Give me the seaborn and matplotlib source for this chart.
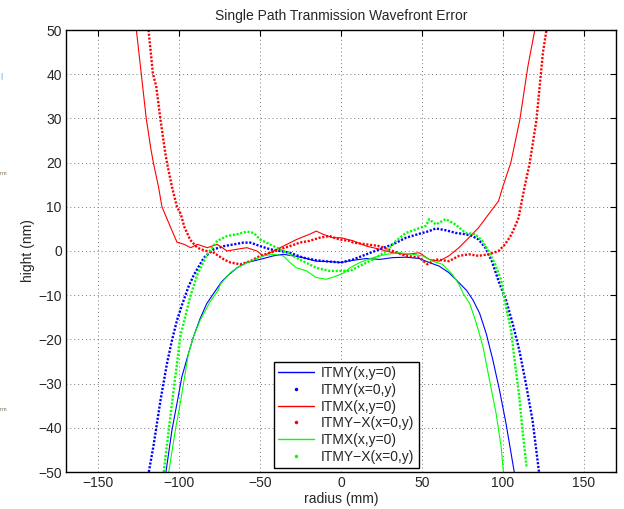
import numpy as np
import pandas as pd
import matplotlib
matplotlib.use("Agg")
import matplotlib.pyplot as plt
from matplotlib.lines import Line2D
import seaborn as sns

# ---------------- data ----------------
title = "Single Path Tranmission Wavefront Error"
xlabel = "radius (mm)"
ylabel = "hight (nm)"
xticks = [-150, -100, -50, 0, 50, 100, 150]
yticks = [-50, -40, -30, -20, -10, 0, 10, 20, 30, 40, 50]

itmy_x_r = [-108.2, -104.5, -101.4, -98.4, -94.3, -91.2, -87.1, -83, -78, -73.9, -70.4, -64.3, -58.2,
            -50, -41.8, -35.7, -29.6, -23.5, -15.3, -7.1, 0, 7.6, 15.7, 23.9, 32, 40.2, 48.4, 54.5,
            60.6, 66.7, 71.4, 77.6, 81.6, 85.7, 89.8, 93.9, 98, 102, 107.1]
itmy_x_v = [-50, -40.5, -34.5, -28.5, -23.2, -19.4, -15.3, -11.9, -9.2, -7, -5.7, -3.8, -2.6,
            -1.9, -1.1, -0.75, -1.1, -1.5, -2.3, -2.4, -2.6, -2.1, -1.7, -1.9, -1.5, -1.4, -1.7, -2.6,
            -3.4, -4.9, -6.6, -8.9, -11.1, -14.1, -18.7, -24.7, -31.5, -39, -50]

itmy_y_r = [-118.8, -115.7, -111.6, -107.6, -104.5, -101.4, -98.4, -94.3, -90.8, -84.7, -78.6, -72.4,
            -66.3, -60.2, -56, -50, -43.9, -37.7, -31.6, -23.5, -15.3, -7.1, 0, 7.6, 15.7, 23.9, 32,
            40.2, 48.4, 54.5, 58.6, 64.7, 70.8, 76.9, 81, 85.1, 89.2, 93.3, 97.4, 102, 106.1, 110.2,
            114.3, 118.4, 122.4]
itmy_y_v = [-50, -43.6, -33.8, -25.5, -20.2, -15.7, -12.3, -8.1, -5.3, -1.5, 0.4, 1.1,
            1.5, 1.9, 1.9, 1.1, 0.4, 0, -0.4, -1.5, -2.1, -2.4, -2.6, -1.9, -0.75, 0.4, 1.5,
            3, 3.9, 4.5, 5.1, 4.7, 4.1, 3.8, 3.4, 2.6, 0.75, -2.3, -6.8, -11.1, -16.4, -22.4,
            -30, -38.3, -50]

itmx_x_r = [-126.5, -123.5, -120.4, -117.5, -116, -112.8, -110.7, -105.5, -101.4, -97, -92.9, -88.8,
            -82.7, -76.5, -70.4, -64.3, -58.2, -52, -48, -43.9, -35.7, -27.5, -19.4, -15.3, -11.2,
            -5.1, 0, 7.6, 15.7, 23.9, 32, 40.2, 48.4, 54.5, 60.6, 66.7, 72.9, 79, 85.1, 91.2, 97.4,
            100, 105, 110.5, 115.5, 119.8]
itmx_x_v = [50, 40.2, 30, 23, 20, 14.5, 10, 5.5, 2, 1.5, 0.75, 1.5,
            0.75, 1.5, 0, 0.4, 0.75, 0, -1.1, -0.4, 1.1, 2.6, 3.8, 4.5, 3.8,
            3, 3, 2.3, 1.1, 0.4, -0.4, -0.75, -0.4, -1.9, -2.3, -1.1, 0.75, 3, 5.3, 8.3, 11.3,
            14.5, 20, 29.6, 41.7, 50]

itmyx_y_r = [-119, -116.3, -114.2, -111.7, -108.6, -107.6, -104.5, -101.4, -99, -96.9, -93.2, -88.8,
             -84.7, -78.6, -72.4, -68.4, -62.2, -56, -50, -43.9, -37.7, -31.6, -25.5, -19.4, -13.3,
             -7.1, -1, 5, 7.6, 15.7, 23.9, 32, 40.2, 48.4, 53.5, 58.6, 66.7, 72.9, 79, 85.1, 91.2,
             97.4, 101.4, 105.5, 109.6, 113.5, 116.7, 120.8, 124.8, 127]
itmyx_y_v = [50, 40.2, 37.2, 30, 22.1, 20, 14.5, 10, 8.3, 5.5, 2.5, 0.75,
             0.15, -0.4, -1.9, -2.6, -3, -2.3, -1.1, -0.4, 0.4, 1.1, 1.9, 2.3, 3,
             3.4, 2.6, 2.3, 1.9, 1.5, 1.1, 0, -1.1, -1.5, -3, -1.9, -2.3, -1.1, -0.75, -1.1, -0.75,
             0, 1.5, 3.8, 7.3, 14.5, 20, 29.6, 44.8, 50]

itmx2_x_r = [-106.5, -102.4, -99.4, -94.3, -91.2, -87.1, -81, -76, -74.5, -68.4, -64.3, -56, -48,
             -41.8, -35.7, -31.6, -27.5, -21.4, -15.3, -9.2, -3.1, 2, 5.5, 11.6, 19.8, 28, 36.1,
             44.3, 50.4, 56.5, 62.7, 68.8, 72.9, 75.5, 79.6, 83.7, 87.8, 91.8, 95.9, 99, 100.4]
itmx2_x_v = [-50, -40.5, -34.5, -23.2, -19.4, -15.7, -11.5, -8.9, -7.5, -4.9, -3.8, -2.3, -1.1,
             -0.75, -1.1, -2.6, -3.8, -4.5, -6, -6.4, -5.7, -4.9, -3.8, -2.6, -1.5, -0.75, -0.4,
             -0.75, -1.1, -2.3, -3, -5.3, -7.5, -9.6, -11.9, -16.4, -21.7, -29.2, -36.8, -44.3, -50]

itmyx2_y_r = [-109.6, -106.5, -103.5, -101.4, -99.4, -96.3, -93.3, -88.8, -82.7, -76.5, -70.4, -64.3,
              -58.2, -54, -50, -43.9, -37.7, -31.6, -23.5, -15.3, -7.1, 1, 5.5, 11.6, 19.8, 28, 34,
              40.2, 46.3, 52.5, 54.5, 58.6, 64.7, 70.8, 76.9, 83, 87.2, 91.2, 95.3, 99, 102, 105.1,
              107.1, 110.2, 112.2, 114.7]
itmyx2_y_v = [-50, -40.5, -31.5, -25.5, -19.4, -14.9, -10.4, -5.3, -0.75, 2.3, 3.4, 3.8,
              4.4, 4.1, 2.6, 1.5, 0.4, -0.75, -2.3, -3.8, -4.5, -4.5, -4.5, -3.4, -1.9, 0, 2.3,
              4.1, 4.9, 5.7, 7.2, 6, 7.2, 6, 4.1, 3.8, 2.3, 0, -3, -6.6, -12.6, -17.9,
              -24, -33, -40.5, -48.8]

labels = ["ITMY(x,y=0)", "ITMY(x=0,y)", "ITMX(x,y=0)", "ITMY\u2212X(x=0,y)",
          "ITMX(x,y=0)", "ITMY\u2212X(x=0,y)"]
colors = ["#0000ff", "#0000ff", "#ff0000", "#ff0000", "#00ff00", "#00ff00"]
dotted = [False, True, False, True, False, True]
series = [(itmy_x_r, itmy_x_v), (itmy_y_r, itmy_y_v), (itmx_x_r, itmx_x_v),
          (itmyx_y_r, itmyx_y_v), (itmx2_x_r, itmx2_x_v), (itmyx2_y_r, itmyx2_y_v)]

# ---------------- style ----------------
sns.set_style("white")
plt.rcParams["font.family"] = ["Liberation Sans", "DejaVu Sans"]
plt.rcParams["font.size"] = 10
plt.rcParams["xtick.direction"] = "in"
plt.rcParams["ytick.direction"] = "in"

fig = plt.figure(figsize=(6.24, 5.09), dpi=100)
ax = fig.add_axes([66 / 624, 1 - 472 / 509, 550 / 624, 442 / 509])

for (r, v), c, d in zip(series, colors, dotted):
    df = pd.DataFrame({"r": r, "v": v})
    if d:
        sns.lineplot(data=df, x="r", y="v", ax=ax, color=c, estimator=None, sort=False,
                     linewidth=1.7, linestyle=(0, (0.9, 0.7)), dash_capstyle="butt")
    else:
        sns.lineplot(data=df, x="r", y="v", ax=ax, color=c, estimator=None, sort=False,
                     linewidth=0.8)

ax.set_xlim(-170, 170)
ax.set_ylim(-50, 50)
ax.set_xticks(xticks)
ax.set_yticks(yticks)
ax.set_xticklabels([str(t).replace("-", "\u2212") for t in xticks])
ax.set_yticklabels([str(t).replace("-", "\u2212") for t in yticks])
ax.tick_params(axis="both", which="both", top=True, right=True, length=4, width=0.8,
               labelsize=10, color="black", pad=3)
ax.grid(True, linestyle=(0, (1, 3)), linewidth=0.7, color="#777777")
for s in ax.spines.values():
    s.set_visible(True)
    s.set_color("black")
    s.set_linewidth(1.0)

ax.set_title(title, fontsize=10, pad=7)
ax.set_xlabel(xlabel, fontsize=10, labelpad=1)
ax.set_ylabel(ylabel, fontsize=10, labelpad=2)

handles = []
for c, d in zip(colors, dotted):
    if d:
        handles.append(Line2D([], [], color=c, marker=".", markersize=3, linestyle="None"))
    else:
        handles.append(Line2D([], [], color=c, linewidth=1.0))
leg = ax.legend(handles, labels, loc="lower left", bbox_to_anchor=(0.378, 0.009),
                frameon=True, fancybox=False, edgecolor="black", framealpha=1,
                fontsize=10, handlelength=2.6, handletextpad=0.5, labelspacing=0.2,
                borderpad=0.3, borderaxespad=0)
leg.get_frame().set_linewidth(1.0)

# clipped remnants at the left edge of the reference
fig.text(0.0, 1 - 78 / 509, "|", color="#5b8fd0", fontsize=6)
fig.text(0.0, 1 - 175 / 509, "nm", color="#7a6a55", fontsize=4)
fig.text(0.0, 1 - 411 / 509, "nm", color="#7a6a55", fontsize=4)

fig.savefig("out.png", dpi=100)
